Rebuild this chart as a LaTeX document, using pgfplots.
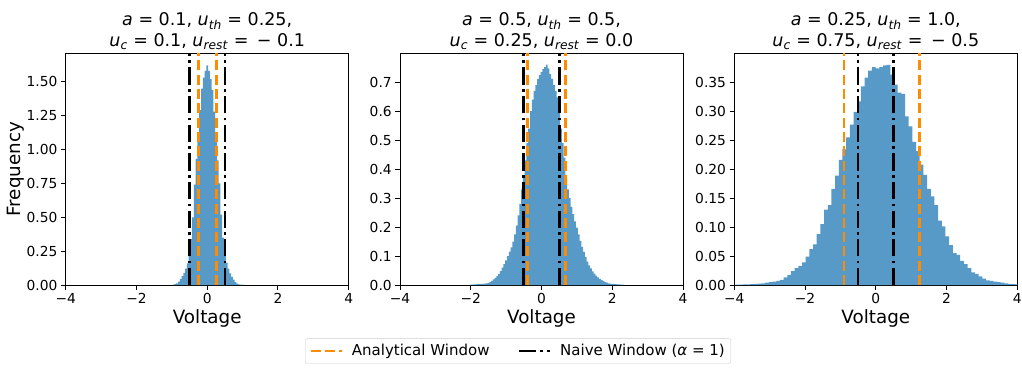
\documentclass[border=0pt]{standalone}
\usepackage{fontspec}
\setmainfont{DejaVu Sans}
\usepackage{pgfplots}
\pgfplotsset{compat=1.18}
\usepackage{pgfplotstable}

\definecolor{histc}{RGB}{87,153,199}
\definecolor{anorange}{RGB}{255,140,0}

\pgfplotstableread{
x y
-0.975 0.003
-0.925 0.006
-0.875 0.012
-0.825 0.025
-0.775 0.045
-0.725 0.065
-0.675 0.090
-0.625 0.120
-0.575 0.160
-0.525 0.220
-0.475 0.340
-0.425 0.500
-0.375 0.740
-0.325 0.930
-0.275 1.100
-0.225 1.290
-0.175 1.450
-0.125 1.530
-0.075 1.580
-0.025 1.620
0.025 1.580
0.075 1.520
0.125 1.440
0.175 1.280
0.225 1.100
0.275 0.920
0.325 0.750
0.375 0.520
0.425 0.350
0.475 0.240
0.525 0.165
0.575 0.120
0.625 0.085
0.675 0.060
0.725 0.040
0.775 0.022
0.825 0.011
0.875 0.005
0.925 0.002
0.975 0.002
1.025 0.002
}\histA

\pgfplotstableread{
x y
-2.025 0.001
-1.975 0.001
-1.925 0.002
-1.875 0.002
-1.825 0.003
-1.775 0.003
-1.725 0.004
-1.675 0.004
-1.625 0.005
-1.575 0.006
-1.525 0.007
-1.475 0.010
-1.425 0.014
-1.375 0.019
-1.325 0.025
-1.275 0.031
-1.225 0.038
-1.175 0.048
-1.125 0.060
-1.075 0.072
-1.025 0.085
-0.975 0.100
-0.925 0.115
-0.875 0.130
-0.825 0.150
-0.775 0.175
-0.725 0.205
-0.675 0.240
-0.625 0.280
-0.575 0.330
-0.525 0.375
-0.475 0.430
-0.425 0.490
-0.375 0.540
-0.325 0.600
-0.275 0.640
-0.225 0.670
-0.175 0.690
-0.125 0.712
-0.075 0.725
-0.025 0.735
0.025 0.745
0.075 0.752
0.125 0.761
0.175 0.748
0.225 0.728
0.275 0.712
0.325 0.690
0.375 0.670
0.425 0.648
0.475 0.600
0.525 0.540
0.575 0.490
0.625 0.440
0.675 0.370
0.725 0.330
0.775 0.300
0.825 0.270
0.875 0.245
0.925 0.220
0.975 0.198
1.025 0.175
1.075 0.152
1.125 0.132
1.175 0.114
1.225 0.097
1.275 0.081
1.325 0.068
1.375 0.057
1.425 0.047
1.475 0.039
1.525 0.032
1.575 0.026
1.625 0.021
1.675 0.017
1.725 0.013
1.775 0.010
1.825 0.008
1.875 0.006
1.925 0.005
1.975 0.004
2.025 0.0035
2.075 0.003
2.125 0.0025
2.175 0.002
2.225 0.0015
2.275 0.001
2.325 0.001
}\histB

\pgfplotstableread{
x y
-4.062 0.0003
-3.958 0.0005
-3.854 0.0008
-3.750 0.001
-3.646 0.001
-3.542 0.0015
-3.438 0.002
-3.334 0.0025
-3.230 0.003
-3.126 0.004
-3.022 0.005
-2.918 0.006
-2.814 0.007
-2.710 0.0087
-2.606 0.013
-2.502 0.017
-2.398 0.024
-2.294 0.029
-2.190 0.033
-2.086 0.039
-1.982 0.049
-1.878 0.062
-1.774 0.070
-1.670 0.088
-1.566 0.105
-1.462 0.130
-1.358 0.138
-1.254 0.166
-1.150 0.189
-1.046 0.216
-0.942 0.234
-0.838 0.255
-0.734 0.277
-0.630 0.299
-0.526 0.317
-0.422 0.343
-0.318 0.358
-0.214 0.370
-0.110 0.376
-0.006 0.374
0.098 0.376
0.202 0.379
0.306 0.380
0.410 0.363
0.514 0.346
0.618 0.332
0.722 0.330
0.826 0.291
0.930 0.274
1.034 0.247
1.138 0.231
1.242 0.208
1.346 0.190
1.450 0.166
1.554 0.153
1.658 0.138
1.762 0.111
1.866 0.101
1.970 0.084
2.074 0.069
2.178 0.055
2.282 0.052
2.386 0.0415
2.490 0.036
2.594 0.029
2.698 0.022
2.802 0.019
2.906 0.015
3.010 0.011
3.114 0.008
3.218 0.007
3.322 0.006
3.426 0.005
3.530 0.004
3.634 0.003
3.738 0.002
3.842 0.0015
3.946 0.001
4.050 0.001
}\histC

\pgfplotsset{
  panel/.style={
    scale only axis, width=283pt, height=231.7pt,
    anchor=south west,
    xmin=-4, xmax=4, ymin=0,
    xtick={-4,-2,0,2,4}, xticklabels={−4,−2,0,2,4},
    tick align=outside, tick pos=left,
    major tick length=4.8pt,
    tick style={line width=1pt, black},
    axis line style={line width=1pt},
    tick label style={font=\fontsize{13.8}{15}\selectfont},
    xlabel={Voltage},
    xlabel style={font=\fontsize{18.3}{20}\selectfont, at={(axis description cs:0.5,0)}, anchor=base, yshift=-38pt},
    title style={font=\fontsize{17.5}{21}\selectfont, align=center, at={(axis description cs:0.5,1)}, anchor=south, inner sep=0pt, yshift=-2.5pt},
    legend image code/.code={\draw[##1] (0pt,0pt) -- (31pt,0pt);},
  },
  hist/.style={fill=histc, draw=none, const plot, forget plot},
  aw/.style={anorange, line width=2.7pt, dash pattern=on 10pt off 4.3pt},
  nw/.style={black, line width=2.7pt, dash pattern=on 17.3pt off 4.3pt on 2.7pt off 4.3pt},
}

\begin{document}
\begin{tikzpicture}
\path[use as bounding box] (0pt,0pt) rectangle (1022pt,367pt);

% Panel 1
\begin{axis}[panel, at={(65.7pt,82pt)}, ymax=1.71,
  ytick={0,0.25,0.5,0.75,1,1.25,1.5},
  yticklabels={0.00,0.25,0.50,0.75,1.00,1.25,1.50},
  ylabel={Frequency},
  ylabel style={font=\fontsize{18.3}{20}\selectfont, at={(axis description cs:0,0.5)}, anchor=base, yshift=45pt},
  title={\textit{a} = 0.1, \textit{u}\textsubscript{\textit{th}} = 0.25,\\ \textit{u}\textsubscript{\textit{c}} = 0.1, \textit{u}\textsubscript{\textit{rest}} = \,− 0.1}]
\addplot[hist] table {\histA} \closedcycle;
\addplot[aw] coordinates {(-0.24,0) (-0.24,1.71)};
\addplot[aw] coordinates {(0.26,0) (0.26,1.71)};
\addplot[nw] coordinates {(-0.5,0) (-0.5,1.71)};
\addplot[nw] coordinates {(0.5,0) (0.5,1.71)};
\end{axis}

% Panel 2
\begin{axis}[panel, at={(400pt,82pt)}, ymax=0.8,
  ytick={0,0.1,0.2,0.3,0.4,0.5,0.6,0.7},
  yticklabels={0.0,0.1,0.2,0.3,0.4,0.5,0.6,0.7},
  title={\textit{a} = 0.5, \textit{u}\textsubscript{\textit{th}} = 0.5,\\ \textit{u}\textsubscript{\textit{c}} = 0.25, \textit{u}\textsubscript{\textit{rest}} = 0.0},
  legend style={at={(0.417,-0.285)}, anchor=center, legend columns=2,
    draw=black!20, rounded corners=2pt, fill=white,
    inner ysep=4pt, inner xsep=4pt,
    font=\fontsize{15}{17}\selectfont,
    /tikz/every odd column/.append style={column sep=7pt},
    /tikz/every even column/.append style={column sep=26pt}}]
\addplot[hist] table {\histB} \closedcycle;
\addplot[aw] coordinates {(-0.4,0) (-0.4,0.8)};
\addlegendentry{Analytical Window}
\addplot[aw, forget plot] coordinates {(0.67,0) (0.67,0.8)};
\addplot[nw] coordinates {(-0.5,0) (-0.5,0.8)};
\addlegendentry{Naive Window (\textit{α} = 1)}
\addplot[nw, forget plot] coordinates {(0.5,0) (0.5,0.8)};
\end{axis}

% Panel 3
\begin{axis}[panel, at={(734.3pt,82pt)}, ymax=0.4,
  ytick={0,0.05,0.1,0.15,0.2,0.25,0.3,0.35},
  yticklabels={0.00,0.05,0.10,0.15,0.20,0.25,0.30,0.35},
  title={\textit{a} = 0.25, \textit{u}\textsubscript{\textit{th}} = 1.0,\\ \textit{u}\textsubscript{\textit{c}} = 0.75, \textit{u}\textsubscript{\textit{rest}} = \,− 0.5}]
\addplot[hist] table {\histC} \closedcycle;
\addplot[aw] coordinates {(-0.9,0) (-0.9,0.4)};
\addplot[aw] coordinates {(1.23,0) (1.23,0.4)};
\addplot[nw] coordinates {(-0.5,0) (-0.5,0.4)};
\addplot[nw] coordinates {(0.5,0) (0.5,0.4)};
\end{axis}
\end{tikzpicture}
\end{document}
